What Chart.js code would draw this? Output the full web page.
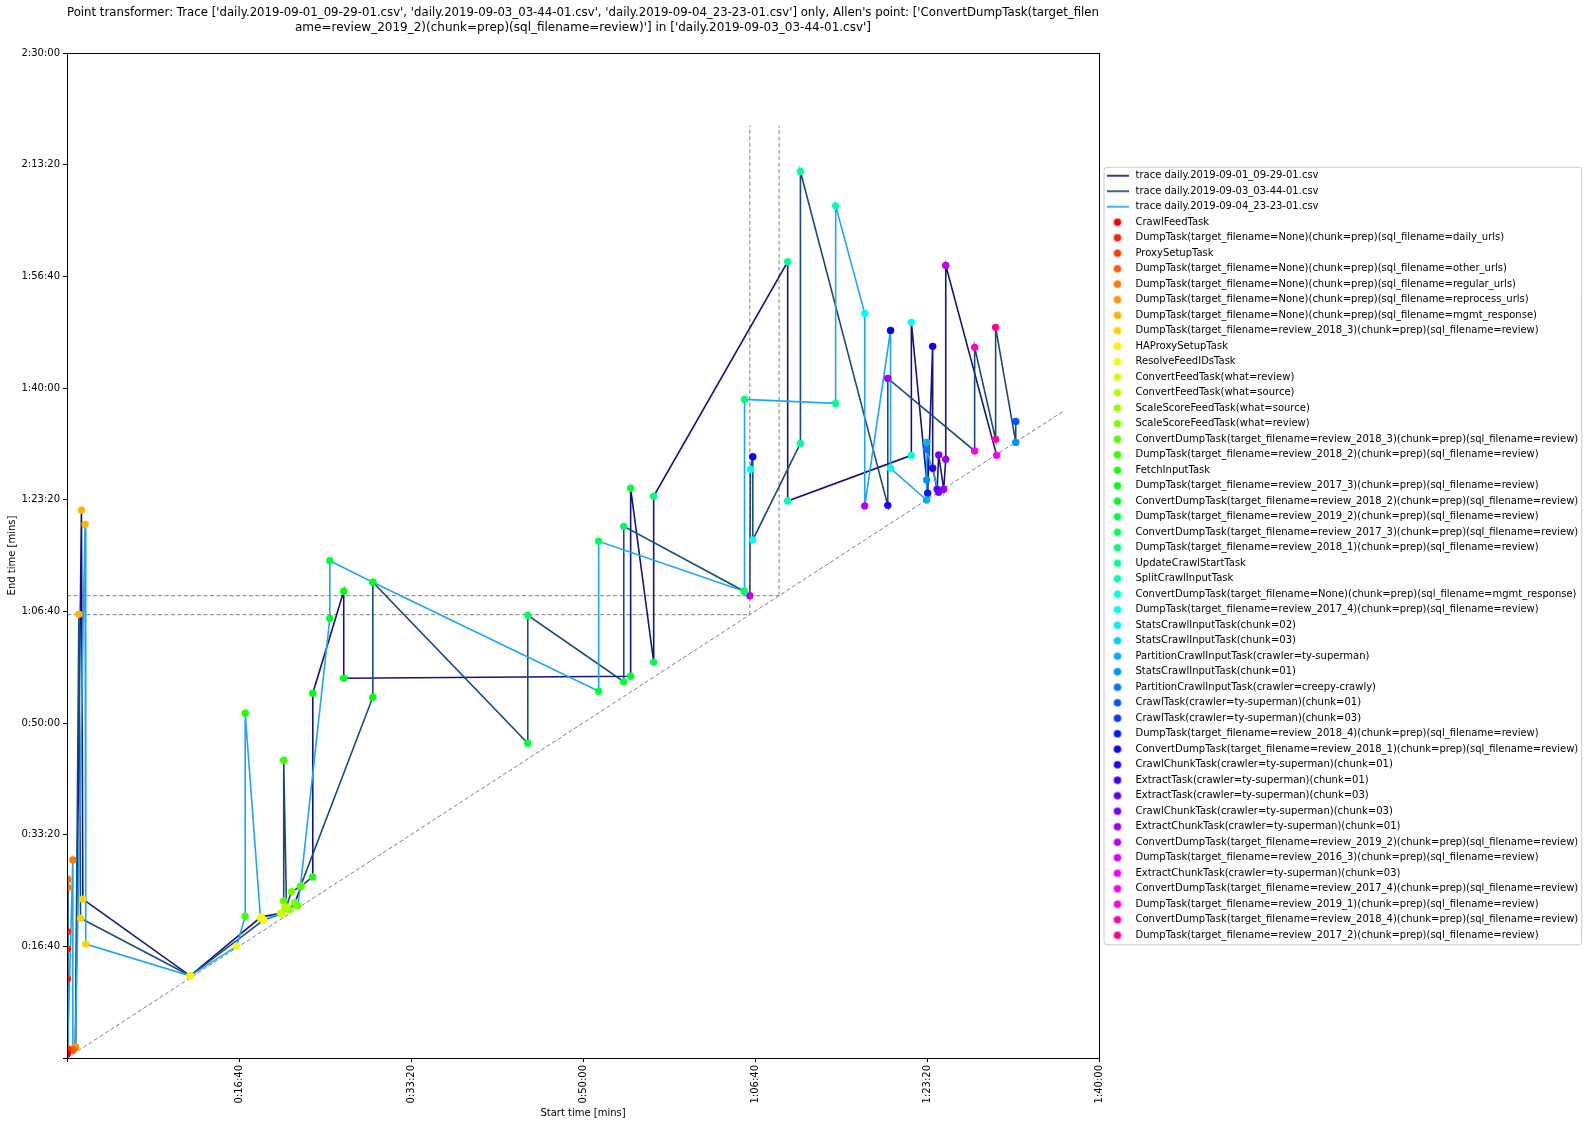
<!DOCTYPE html>
<html><head><meta charset="utf-8">
<script src="https://cdn.jsdelivr.net/npm/chart.js@4.4.1/dist/chart.umd.min.js"></script>
<style>html,body{margin:0;padding:0;background:#fff;}canvas{display:block;}</style>
</head><body>
<canvas id="c" width="1591" height="1125"></canvas>
<script>
// ---------------- DATA ----------------
const titleLines = [
  "Point transformer: Trace ['daily.2019-09-01_09-29-01.csv', 'daily.2019-09-03_03-44-01.csv', 'daily.2019-09-04_23-23-01.csv'] only, Allen's point: ['ConvertDumpTask(target_filen",
  "ame=review_2019_2)(chunk=prep)(sql_filename=review)'] in ['daily.2019-09-03_03-44-01.csv']"
];
const xAxisTitle = 'Start time [mins]';
const yAxisTitle = 'End time [mins]';
const xTickValues = [0, 1000, 2000, 3000, 4000, 5000, 6000];
const xTickLabels = ['', '0:16:40', '0:33:20', '0:50:00', '1:06:40', '1:23:20', '1:40:00'];
const yTickValues = [0, 1000, 2000, 3000, 4000, 5000, 6000, 7000, 8000, 9000];
const yTickLabels = ['', '0:16:40', '0:33:20', '0:50:00', '1:06:40', '1:23:20', '1:40:00', '1:56:40', '2:13:20', '2:30:00'];

const traceNames = ['trace daily.2019-09-01_09-29-01.csv', 'trace daily.2019-09-03_03-44-01.csv', 'trace daily.2019-09-04_23-23-01.csv'];
const traceColors = ['#14147f', '#1a4a78', '#1ea4fa'];

const taskNames = [
  'CrawlFeedTask',
  'DumpTask(target_filename=None)(chunk=prep)(sql_filename=daily_urls)',
  'ProxySetupTask',
  'DumpTask(target_filename=None)(chunk=prep)(sql_filename=other_urls)',
  'DumpTask(target_filename=None)(chunk=prep)(sql_filename=regular_urls)',
  'DumpTask(target_filename=None)(chunk=prep)(sql_filename=reprocess_urls)',
  'DumpTask(target_filename=None)(chunk=prep)(sql_filename=mgmt_response)',
  'DumpTask(target_filename=review_2018_3)(chunk=prep)(sql_filename=review)',
  'HAProxySetupTask',
  'ResolveFeedIDsTask',
  'ConvertFeedTask(what=review)',
  'ConvertFeedTask(what=source)',
  'ScaleScoreFeedTask(what=source)',
  'ScaleScoreFeedTask(what=review)',
  'ConvertDumpTask(target_filename=review_2018_3)(chunk=prep)(sql_filename=review)',
  'DumpTask(target_filename=review_2018_2)(chunk=prep)(sql_filename=review)',
  'FetchInputTask',
  'DumpTask(target_filename=review_2017_3)(chunk=prep)(sql_filename=review)',
  'ConvertDumpTask(target_filename=review_2018_2)(chunk=prep)(sql_filename=review)',
  'DumpTask(target_filename=review_2019_2)(chunk=prep)(sql_filename=review)',
  'ConvertDumpTask(target_filename=review_2017_3)(chunk=prep)(sql_filename=review)',
  'DumpTask(target_filename=review_2018_1)(chunk=prep)(sql_filename=review)',
  'UpdateCrawlStartTask',
  'SplitCrawlInputTask',
  'ConvertDumpTask(target_filename=None)(chunk=prep)(sql_filename=mgmt_response)',
  'DumpTask(target_filename=review_2017_4)(chunk=prep)(sql_filename=review)',
  'StatsCrawlInputTask(chunk=02)',
  'StatsCrawlInputTask(chunk=03)',
  'PartitionCrawlInputTask(crawler=ty-superman)',
  'StatsCrawlInputTask(chunk=01)',
  'PartitionCrawlInputTask(crawler=creepy-crawly)',
  'CrawlTask(crawler=ty-superman)(chunk=01)',
  'CrawlTask(crawler=ty-superman)(chunk=03)',
  'DumpTask(target_filename=review_2018_4)(chunk=prep)(sql_filename=review)',
  'ConvertDumpTask(target_filename=review_2018_1)(chunk=prep)(sql_filename=review)',
  'CrawlChunkTask(crawler=ty-superman)(chunk=01)',
  'ExtractTask(crawler=ty-superman)(chunk=01)',
  'ExtractTask(crawler=ty-superman)(chunk=03)',
  'CrawlChunkTask(crawler=ty-superman)(chunk=03)',
  'ExtractChunkTask(crawler=ty-superman)(chunk=01)',
  'ConvertDumpTask(target_filename=review_2019_2)(chunk=prep)(sql_filename=review)',
  'DumpTask(target_filename=review_2016_3)(chunk=prep)(sql_filename=review)',
  'ExtractChunkTask(crawler=ty-superman)(chunk=03)',
  'ConvertDumpTask(target_filename=review_2017_4)(chunk=prep)(sql_filename=review)',
  'DumpTask(target_filename=review_2019_1)(chunk=prep)(sql_filename=review)',
  'ConvertDumpTask(target_filename=review_2018_4)(chunk=prep)(sql_filename=review)',
  'DumpTask(target_filename=review_2017_2)(chunk=prep)(sql_filename=review)'
];

// trace 1 (daily.2019-09-01_09-29-01.csv), seconds, sorted by start
const t1Start = [0, 3, 4, 5, 34, 49, 84, 92, 716, 1129, 1243, 1266, 1293, 1324, 1363, 1427, 1429, 1609, 1609, 3277, 3277, 3411, 3411, 4190, 4190, 4909, 4909, 4998, 4998, 5004, 5033, 5033, 5059, 5068, 5097, 5109, 5109, 5405];
const t1End   = [37, 1132, 1601, 79, 73, 97, 4905, 1422, 736, 1264, 1297, 1356, 1327, 1392, 1541, 1621, 3267, 4180, 3401, 3418, 5102, 3544, 5030, 7130, 4988, 5397, 6588, 5176, 5513, 5057, 6373, 5281, 5093, 5400, 5093, 5361, 7098, 5397];
const t1Task  = [0, 1, 4, 2, 3, 5, 6, 7, 8, 9, 10, 11, 12, 13, 14, 16, 17, 17, 18, 18, 19, 20, 21, 22, 23, 24, 25, 29, 28, 33, 34, 35, 37, 38, 39, 39, 40, 42];

// trace 2 (daily.2019-09-03_03-44-01.csv)
const t2Start = [0, 3, 4, 5, 34, 49, 69, 79, 716, 1144, 1253, 1260, 1260, 1276, 1305, 1357, 1778, 1778, 2679, 2679, 3237, 3237, 3937, 3970, 3973, 3987, 3987, 4264, 4264, 4772, 4772, 5277, 5277, 5399, 5399, 5516, 5516];
const t2End   = [37, 977, 1526, 79, 73, 97, 3974, 1252, 736, 1237, 1294, 1406, 2667, 1353, 1490, 1535, 3231, 4260, 2819, 3965, 3370, 4761, 4180, 4140, 5272, 5385, 4639, 5504, 7939, 4949, 6086, 5436, 6364, 5540, 6543, 5513, 5701];
const t2Task  = [0, 1, 4, 2, 3, 5, 6, 7, 8, 9, 10, 14, 15, 11, 13, 16, 17, 18, 19, 20, 19, 20, 20, 40, 25, 34, 25, 22, 23, 35, 39, 43, 44, 45, 46, 29, 31];

// trace 3 (daily.2019-09-04_23-23-01.csv)
const t3Start = [0, 3, 5, 34, 34, 49, 105, 109, 716, 986, 1036, 1036, 1125, 1140, 1243, 1332, 1341, 1357, 1528, 1528, 1778, 3091, 3091, 3937, 3939, 4469, 4469, 4638, 4638, 4788, 4788, 4998, 4998, 5068];
const t3End   = [37, 709, 79, 1774, 73, 97, 4778, 1020, 736, 1000, 1267, 3087, 1252, 1237, 1297, 1365, 1364, 1535, 3936, 4453, 4260, 3284, 4627, 4180, 5898, 5862, 7631, 6668, 4943, 6516, 5281, 4997, 5451, 5066];
const t3Task  = [0, 1, 2, 4, 3, 5, 6, 7, 8, 9, 15, 16, 10, 11, 12, 13, 14, 17, 18, 19, 20, 19, 20, 20, 21, 22, 23, 25, 40, 34, 25, 28, 30, 38];

// Allen's point guides & identity diagonal
const allenStart = 3970, allenEnd = 4140, guideTop = 8350;
const diagonalEnd = 5800;

// ---------------- STYLE HELPERS ----------------
const FONT = '"DejaVu Sans", "Liberation Sans", sans-serif';
// matplotlib 'hsv' colormap segments
const HSV_R = [[0, 1], [0.158730, 1], [0.174603, 0.96875], [0.333333, 0.03125], [0.349206, 0], [0.666667, 0], [0.682540, 0.03125], [0.841270, 0.96875], [0.857143, 1], [1, 1]];
const HSV_G = [[0, 0], [0.158730, 0.9375], [0.174603, 1], [0.507937, 1], [0.666667, 0.0625], [0.682540, 0], [1, 0]];
const HSV_B = [[0, 0], [0.333333, 0], [0.349206, 0.0625], [0.507937, 1], [0.841270, 1], [0.857143, 0.9375], [1, 0.09375]];
function seg(s, t) {
  for (let i = 1; i < s.length; i++) {
    if (t <= s[i][0]) { const f = (t - s[i - 1][0]) / (s[i][0] - s[i - 1][0]); return s[i - 1][1] + f * (s[i][1] - s[i - 1][1]); }
  }
  return s[s.length - 1][1];
}
function hsvMap(t) {
  return 'rgb(' + [HSV_R, HSV_G, HSV_B].map(s => Math.round(255 * seg(s, t))).join(',') + ')';
}
const colorDenom = traceNames.length + taskNames.length;
const taskColors = taskNames.map((_, i) => hsvMap(i / colorDenom));

function circleIcon(color) {
  const c = document.createElement('canvas'); c.width = 10; c.height = 10;
  const g = c.getContext('2d'); g.fillStyle = color; g.beginPath(); g.arc(5, 5, 3.8, 0, Math.PI * 2); g.fill();
  return c;
}
function lineIcon(color) {
  const c = document.createElement('canvas'); c.width = 22; c.height = 4;
  const g = c.getContext('2d'); g.strokeStyle = color; g.globalAlpha = 0.85; g.lineWidth = 2; g.beginPath(); g.moveTo(0, 2); g.lineTo(22, 2); g.stroke();
  return c;
}

const pts = (s, e) => s.map((v, i) => ({x: v, y: e[i]}));
const traces = [[t1Start, t1End, t1Task], [t2Start, t2End, t2Task], [t3Start, t3End, t3Task]];

const datasets = [];
const legendIcons = [];
traces.forEach((tr, k) => {
  datasets.push({
    label: traceNames[k], data: pts(tr[0], tr[1]), showLine: true,
    borderColor: traceColors[k], backgroundColor: traceColors[k], borderWidth: 1.6,
    pointRadius: 0, pointHoverRadius: 0, order: 3 - k
  });
  legendIcons.push(lineIcon(traceColors[k]));
});
taskNames.forEach((name, t) => {
  const data = [];
  traces.forEach(tr => tr[2].forEach((task, i) => { if (task === t) data.push({x: tr[0][i], y: tr[1][i]}); }));
  datasets.push({
    label: name, data, showLine: false, backgroundColor: taskColors[t], borderColor: taskColors[t],
    borderWidth: 0, pointRadius: 3.7, pointHoverRadius: 3.7, order: 0
  });
  legendIcons.push(circleIcon(taskColors[t]));
});
const nLegend = datasets.length;
const guide = (data) => ({data, showLine: true, borderColor: '#808080', borderWidth: 1, borderDash: [4, 2.5], pointRadius: 0, pointHoverRadius: 0, order: 5, label: '_guide'});
datasets.push(guide([{x: 0, y: 0}, {x: diagonalEnd, y: diagonalEnd}]));
datasets.push(guide([{x: allenStart, y: allenStart}, {x: allenStart, y: guideTop}]));
datasets.push(guide([{x: allenEnd, y: allenEnd}, {x: allenEnd, y: guideTop}]));
datasets.push(guide([{x: 0, y: allenStart}, {x: allenStart, y: allenStart}]));
datasets.push(guide([{x: 0, y: allenEnd}, {x: allenEnd, y: allenEnd}]));

// ---------------- LAYOUT ----------------
const W = 1591, H = 1125;
const plotLeft = 67, plotRight = 1099, plotTop = 53, plotBottom = 1058;
const legPad = 5.5, legBox = 26, legFont = 10;
const mctx = document.createElement('canvas').getContext('2d');
mctx.font = legFont + 'px ' + FONT;
const maxText = Math.max(...traceNames.concat(taskNames).map(s => mctx.measureText(s).width));
const legendWidth = legPad + legBox + legFont / 2 + maxText + 10;
const padRight = Math.max(0, W - plotRight - legendWidth);

const framePlugin = {
  id: 'frames',
  beforeDraw(chart) {
    const ctx = chart.ctx;
    ctx.save(); ctx.fillStyle = '#fff'; ctx.fillRect(0, 0, W, H);
    const lg = chart.legend;
    if (lg && lg.legendHitBoxes && lg.legendHitBoxes.length) {
      const hb = lg.legendHitBoxes;
      const l = hb[0].left - 1, t = hb[0].top - 4;
      const r = Math.max(...hb.map(h => h.left + h.width)) + 3;
      const b = hb[hb.length - 1].top + hb[hb.length - 1].height + 4;
      ctx.beginPath();
      if (ctx.roundRect) ctx.roundRect(l + 0.5, t + 0.5, r - l, b - t, 3); else ctx.rect(l + 0.5, t + 0.5, r - l, b - t);
      ctx.fillStyle = '#fff'; ctx.fill(); ctx.strokeStyle = '#cccccc'; ctx.lineWidth = 1; ctx.stroke();
    }
    ctx.restore();
  },
  afterDraw(chart) {
    const a = chart.chartArea, ctx = chart.ctx;
    ctx.save(); ctx.strokeStyle = '#000'; ctx.lineWidth = 1;
    ctx.strokeRect(Math.round(a.left) + 0.5, Math.round(a.top) + 0.5, Math.round(a.right - a.left), Math.round(a.bottom - a.top));
    ctx.restore();
  }
};

Chart.defaults.font.family = FONT;
Chart.defaults.font.size = 10;
Chart.defaults.color = '#000';

new Chart(document.getElementById('c'), {
  type: 'scatter',
  data: {datasets},
  plugins: [framePlugin],
  options: {
    responsive: false, animation: false, devicePixelRatio: 1,
    layout: {padding: {left: 0, right: padRight, top: 0, bottom: 0}},
    plugins: {
      tooltip: {enabled: false},
      title: {
        display: true, text: titleLines, color: '#000', fullSize: false,
        font: {family: FONT, size: 12, weight: 'normal', lineHeight: 1.25},
        padding: {top: 5, bottom: 18}
      },
      legend: {
        display: true, position: 'right', align: 'center', fullSize: false, maxWidth: 700,
        labels: {
          usePointStyle: true, pointStyleWidth: legBox, padding: legPad, color: '#000',
          font: {family: FONT, size: legFont},
          filter: (item) => item.datasetIndex < nLegend,
          sort: (a, b) => a.datasetIndex - b.datasetIndex,
          generateLabels(chart) {
            const items = Chart.defaults.plugins.legend.labels.generateLabels(chart);
            items.forEach(it => { it.pointStyle = legendIcons[it.datasetIndex]; it.fontColor = '#000'; });
            return items;
          }
        }
      }
    },
    scales: {
      x: {
        type: 'linear', min: 0, max: 6000,
        afterFit: (s) => { s.height = H - plotBottom; },
        afterBuildTicks: (s) => { s.ticks = xTickValues.map(v => ({value: v})); },
        ticks: {autoSkip: false, maxRotation: 90, minRotation: 90, padding: 3, color: '#000', font: {size: 10},
          callback: (v) => { const i = xTickValues.indexOf(v); return i >= 0 ? xTickLabels[i] : ''; }},
        grid: {drawOnChartArea: false, drawTicks: true, tickLength: 4, color: '#000'},
        border: {display: true, color: '#000', width: 1},
        title: {display: true, text: xAxisTitle, color: '#000', font: {size: 10}, padding: {top: 0, bottom: 6}}
      },
      y: {
        type: 'linear', min: 0, max: 9000,
        afterFit: (s) => { s.width = plotLeft; },
        afterBuildTicks: (s) => { s.ticks = yTickValues.map(v => ({value: v})); },
        ticks: {autoSkip: false, padding: 3, color: '#000', font: {size: 10},
          callback: (v) => { const i = yTickValues.indexOf(v); return i >= 0 ? yTickLabels[i] : ''; }},
        grid: {drawOnChartArea: false, drawTicks: true, tickLength: 4, color: '#000'},
        border: {display: true, color: '#000', width: 1},
        title: {display: true, text: yAxisTitle, color: '#000', font: {size: 10}, padding: {top: 6, bottom: 0}}
      }
    }
  }
});
</script>
</body></html>
